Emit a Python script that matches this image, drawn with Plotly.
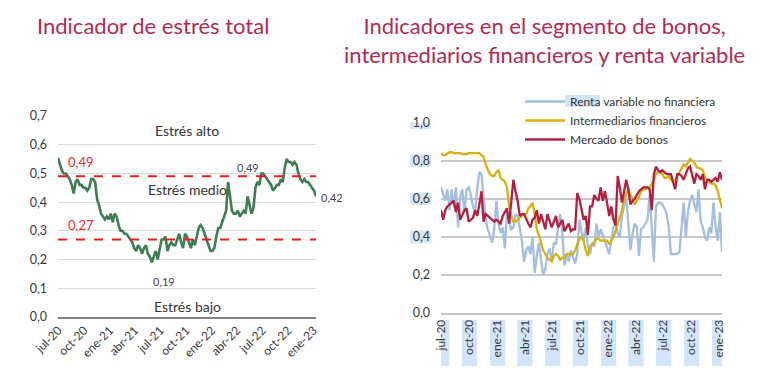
import pandas as pd
import plotly.graph_objects as go

# ---------------- data ----------------
fecha_inicio = "2020-06-29"   # weekly observations

estres_total = [
    0.555, 0.53, 0.51, 0.50, 0.50, 0.49, 0.48, 0.46, 0.43, 0.47,
    0.48, 0.46, 0.46, 0.45, 0.45, 0.44, 0.45, 0.48, 0.48, 0.47,
    0.41, 0.39, 0.36, 0.35, 0.34, 0.35, 0.34, 0.36, 0.33, 0.36,
    0.35, 0.32, 0.30, 0.30, 0.29, 0.29, 0.28, 0.27, 0.26, 0.24,
    0.23, 0.25, 0.24, 0.22, 0.24, 0.25, 0.22, 0.21, 0.19, 0.21,
    0.23, 0.20, 0.24, 0.27, 0.27, 0.28, 0.23, 0.25, 0.26, 0.25,
    0.25, 0.27, 0.29, 0.26, 0.24, 0.29, 0.28, 0.26, 0.24, 0.27,
    0.25, 0.28, 0.31, 0.32, 0.31, 0.29, 0.27, 0.25, 0.23, 0.23,
    0.24, 0.28, 0.31, 0.31, 0.33, 0.35, 0.37, 0.47, 0.42, 0.37,
    0.36, 0.36, 0.37, 0.35, 0.36, 0.37, 0.36, 0.42, 0.39, 0.36,
    0.38, 0.45, 0.47, 0.46, 0.50, 0.50, 0.49, 0.48, 0.47, 0.46,
    0.44, 0.45, 0.46, 0.46, 0.48, 0.47, 0.52, 0.55, 0.54, 0.54,
    0.53, 0.54, 0.53, 0.50, 0.48, 0.47, 0.48, 0.47, 0.47, 0.46,
    0.45, 0.44, 0.42,
]

renta_variable = [
    0.66, 0.62, 0.59, 0.65, 0.54, 0.65, 0.56, 0.66, 0.45, 0.61,
    0.65, 0.53, 0.65, 0.66, 0.62, 0.56, 0.53, 0.65, 0.74, 0.73,
    0.62, 0.49, 0.44, 0.40, 0.37, 0.44, 0.59, 0.47, 0.42, 0.45,
    0.34, 0.53, 0.49, 0.44, 0.45, 0.52, 0.51, 0.45, 0.38, 0.27,
    0.33, 0.35, 0.31, 0.40, 0.21, 0.30, 0.37, 0.28, 0.20, 0.23,
    0.31, 0.34, 0.27, 0.37, 0.36, 0.45, 0.52, 0.42, 0.25, 0.31,
    0.27, 0.33, 0.30, 0.26, 0.31, 0.49, 0.43, 0.38, 0.45, 0.35,
    0.31, 0.37, 0.35, 0.47, 0.40, 0.44, 0.41, 0.38, 0.35, 0.31,
    0.38, 0.45, 0.47, 0.42, 0.40, 0.51, 0.56, 0.61, 0.47, 0.33,
    0.42, 0.47, 0.45, 0.30, 0.44, 0.45, 0.47, 0.49, 0.62, 0.47,
    0.27, 0.56, 0.58, 0.58, 0.57, 0.55, 0.52, 0.45, 0.31, 0.31,
    0.31, 0.31, 0.32, 0.45, 0.58, 0.40, 0.53, 0.59, 0.62, 0.57,
    0.53, 0.65, 0.48, 0.45, 0.40, 0.38, 0.45, 0.42, 0.58, 0.45,
    0.38, 0.53, 0.32,
]

intermediarios = [
    0.84, 0.83, 0.83, 0.84, 0.845, 0.845, 0.84, 0.84, 0.84, 0.84,
    0.835, 0.835, 0.835, 0.84, 0.84, 0.84, 0.84, 0.84, 0.84, 0.83,
    0.82, 0.78, 0.75, 0.73, 0.72, 0.72, 0.74, 0.75, 0.71, 0.70,
    0.69, 0.66, 0.56, 0.51, 0.48, 0.48, 0.49, 0.50, 0.51, 0.52,
    0.52, 0.55, 0.56, 0.58, 0.52, 0.44, 0.41, 0.37, 0.33, 0.31,
    0.29, 0.28, 0.27, 0.30, 0.31, 0.30, 0.28, 0.29, 0.29, 0.31,
    0.31, 0.31, 0.31, 0.33, 0.36, 0.39, 0.40, 0.38, 0.33, 0.30,
    0.35, 0.36, 0.37, 0.39, 0.39, 0.38, 0.38, 0.38, 0.38, 0.36,
    0.38, 0.40, 0.43, 0.47, 0.51, 0.54, 0.60, 0.63, 0.65, 0.62,
    0.60, 0.57, 0.59, 0.61, 0.64, 0.65, 0.65, 0.66, 0.66, 0.68,
    0.70, 0.73, 0.74, 0.74, 0.73, 0.71, 0.71, 0.72, 0.70, 0.69,
    0.70, 0.72, 0.74, 0.76, 0.78, 0.77, 0.79, 0.81, 0.80, 0.79,
    0.77, 0.76, 0.76, 0.75, 0.71, 0.70, 0.69, 0.68, 0.68, 0.67,
    0.64, 0.60, 0.55,
]

mercado_bonos = [
    0.54, 0.49, 0.54, 0.56, 0.57, 0.58, 0.59, 0.53, 0.58, 0.49,
    0.52, 0.54, 0.55, 0.48, 0.49, 0.50, 0.54, 0.51, 0.57, 0.64,
    0.48, 0.52, 0.51, 0.50, 0.49, 0.48, 0.49, 0.48, 0.47, 0.51,
    0.53, 0.55, 0.47, 0.58, 0.70, 0.64, 0.59, 0.51, 0.52, 0.52,
    0.49, 0.47, 0.45, 0.49, 0.50, 0.54, 0.47, 0.52, 0.48, 0.44,
    0.52, 0.48, 0.45, 0.48, 0.51, 0.45, 0.47, 0.49, 0.43, 0.45,
    0.47, 0.43, 0.44, 0.44, 0.63, 0.60, 0.55, 0.49, 0.51, 0.41,
    0.56, 0.56, 0.62, 0.60, 0.59, 0.66, 0.59, 0.64, 0.58, 0.51,
    0.56, 0.49, 0.46, 0.72, 0.66, 0.58, 0.64, 0.70, 0.65, 0.57,
    0.59, 0.60, 0.62, 0.64, 0.65, 0.66, 0.66, 0.66, 0.65, 0.54,
    0.73, 0.77, 0.75, 0.74, 0.75, 0.74, 0.73, 0.73, 0.73, 0.69,
    0.65, 0.73, 0.73, 0.72, 0.70, 0.73, 0.76, 0.77, 0.72, 0.68,
    0.73, 0.72, 0.70, 0.73, 0.65, 0.70, 0.70, 0.69, 0.70, 0.71,
    0.69, 0.74, 0.70,
]

umbral_alto = 0.49
umbral_bajo = 0.27

tick_fechas = ["2020-07-01", "2020-10-01", "2021-01-01", "2021-04-01",
               "2021-07-01", "2021-10-01", "2022-01-01", "2022-04-01",
               "2022-07-01", "2022-10-01", "2023-01-01"]
tick_textos = ["jul-20", "oct-20", "ene-21", "abr-21", "jul-21", "oct-21",
               "ene-22", "abr-22", "jul-22", "oct-22", "ene-23"]

series_nombres = ["Renta variable no financiera", "Intermediarios financieros",
                  "Mercado de bonos"]
series_valores = [renta_variable, intermediarios, mercado_bonos]
series_colores = ["#a3bfe0", "#d9b00f", "#b3203f"]

# ---------------- figure ----------------
W, H = 762, 390
FONT = "Lato, 'Open Sans', sans-serif"
TXT = "#3a3a3a"
TITLE_COLOR = "#b22a52"

fechas = pd.date_range(fecha_inicio, periods=len(estres_total), freq="7D")

def fx(p):
    return p / W

def fy(p):
    return 1 - p / H

fig = go.Figure()

fig.add_trace(go.Scatter(
    x=fechas, y=estres_total, mode="lines",
    line=dict(color="#3f7d52", width=2.6),
    xaxis="x", yaxis="y", showlegend=False, hoverinfo="x+y"))

for nombre, vals, color in zip(series_nombres, series_valores, series_colores):
    fig.add_trace(go.Scatter(
        x=fechas, y=vals, mode="lines", name=nombre,
        line=dict(color=color, width=2.3),
        xaxis="x2", yaxis="y2"))

# threshold lines
for u in (umbral_alto, umbral_bajo):
    fig.add_shape(type="line", xref="x domain", yref="y", x0=0, x1=1, y0=u, y1=u,
                  line=dict(color="#ee1c1c", width=2, dash="dash"), layer="above")

ann = []
# titles
ann.append(dict(text="Indicador de estrés total", x=fx(153), y=fy(26),
                xref="paper", yref="paper", showarrow=False,
                xanchor="center", yanchor="middle",
                font=dict(family=FONT, size=22, color=TITLE_COLOR)))
ann.append(dict(text="Indicadores en el segmento de bonos,<br>intermediarios financieros y renta variable",
                x=fx(544), y=fy(40), xref="paper", yref="paper", showarrow=False,
                xanchor="center", yanchor="middle",
                font=dict(family=FONT, size=22, color=TITLE_COLOR)))

# region labels (left)
mid = fechas[66]
for txt, yv in (("Estrés alto", 0.648), ("Estrés medio", 0.443), ("Estrés bajo", 0.035)):
    ann.append(dict(text=txt, x=mid, y=yv, xref="x", yref="y", showarrow=False,
                    font=dict(family=FONT, size=14, color="#333333")))

# threshold labels
for u in (umbral_alto, umbral_bajo):
    ann.append(dict(text=f"{u:.2f}".replace(".", ","), x=fechas[12], y=u, xref="x", yref="y",
                    yshift=14, showarrow=False,
                    font=dict(family=FONT, size=13, color="#ee2a2a")))

# value labels
imin = estres_total.index(min(estres_total))
ann.append(dict(text=f"{estres_total[imin]:.2f}".replace(".", ","), x=fechas[imin], y=estres_total[imin],
                xref="x", yref="y", xshift=12, yshift=-19, showarrow=False,
                font=dict(family=FONT, size=11, color="#444444")))
ann.append(dict(text="0,49", x=fechas[97], y=0.49, xref="x", yref="y", yshift=9, showarrow=False,
                font=dict(family=FONT, size=11, color="#444444")))
ann.append(dict(text=f"{estres_total[-1]:.2f}".replace(".", ","), x=fechas[-1], y=estres_total[-1],
                xref="x", yref="y", xanchor="left", xshift=3, yshift=-1.5, showarrow=False,
                font=dict(family=FONT, size=11, color="#444444")))

axis_common = dict(showgrid=False, ticks="", automargin=False,
                   tickfont=dict(family=FONT, size=12, color=TXT))

fig.update_layout(
    width=W, height=H,
    margin=dict(l=0, r=0, t=0, b=0, autoexpand=False),
    paper_bgcolor="white", plot_bgcolor="white",
    separators=",.",
    annotations=ann,
    showlegend=True,
    legend=dict(x=fx(520), y=fy(87), xanchor="left", yanchor="top",
                bgcolor="rgba(0,0,0,0)", itemwidth=40, tracegroupgap=0,
                font=dict(family=FONT, size=12, color="#333333")),
    xaxis=dict(domain=[fx(58), fx(316)], anchor="y", type="date",
               range=[fechas[0], fechas[-1]], tickvals=tick_fechas, ticktext=tick_textos,
               tickangle=-45, showline=True, linecolor="#808080", linewidth=1.5,
               **axis_common),
    yaxis=dict(domain=[fy(317), fy(116)], anchor="x", range=[0, 0.7], dtick=0.1,
               tickformat=".1f", showgrid=True, gridcolor="#d9d9d9", gridwidth=1,
               zeroline=False, ticklabelstandoff=10, ticks="", automargin=False,
               tickfont=dict(family=FONT, size=12.5, color=TXT)),
    xaxis2=dict(domain=[fx(441), fx(722)], anchor="y2", type="date",
                range=[fechas[0], fechas[-1]], tickvals=tick_fechas, ticktext=tick_textos,
                tickangle=-90, showline=True, linecolor="#c4c4c4", linewidth=1.8,
                **axis_common),
    yaxis2=dict(domain=[fy(313), fy(122.7)], anchor="x2", range=[0, 1.0], dtick=0.2,
                tickformat=".1f", showgrid=True, gridcolor="#c8c8c8", gridwidth=1.6,
                zeroline=False, ticklabelstandoff=10, ticks="", automargin=False,
                tickfont=dict(family=FONT, size=12.5, color=TXT)),
)

# light-blue text-highlight boxes seen behind some right-hand labels
HL = "#d3e5f8"
for t in tick_fechas:
    d = pd.Timestamp(t)
    fig.add_shape(type="rect", xref="x2", yref="paper",
                  x0=d - pd.Timedelta(days=25), x1=d + pd.Timedelta(days=25),
                  y0=fy(366), y1=fy(320), fillcolor=HL, line=dict(width=0), layer="below")
for v in (1.0, 0.8, 0.6, 0.4):
    fig.add_shape(type="rect", xref="paper", yref="y2",
                  x0=fx(410), x1=fx(431), y0=v - 0.033, y1=v + 0.033,
                  fillcolor=HL, line=dict(width=0), layer="below")
fig.add_shape(type="rect", xref="paper", yref="paper",
              x0=fx(565), x1=fx(600), y0=fy(107), y1=fy(95),
              fillcolor=HL, line=dict(width=0), layer="below")

fig.write_html("out.html", config={"displayModeBar": False},
               post_script="document.body.style.margin='0';")
